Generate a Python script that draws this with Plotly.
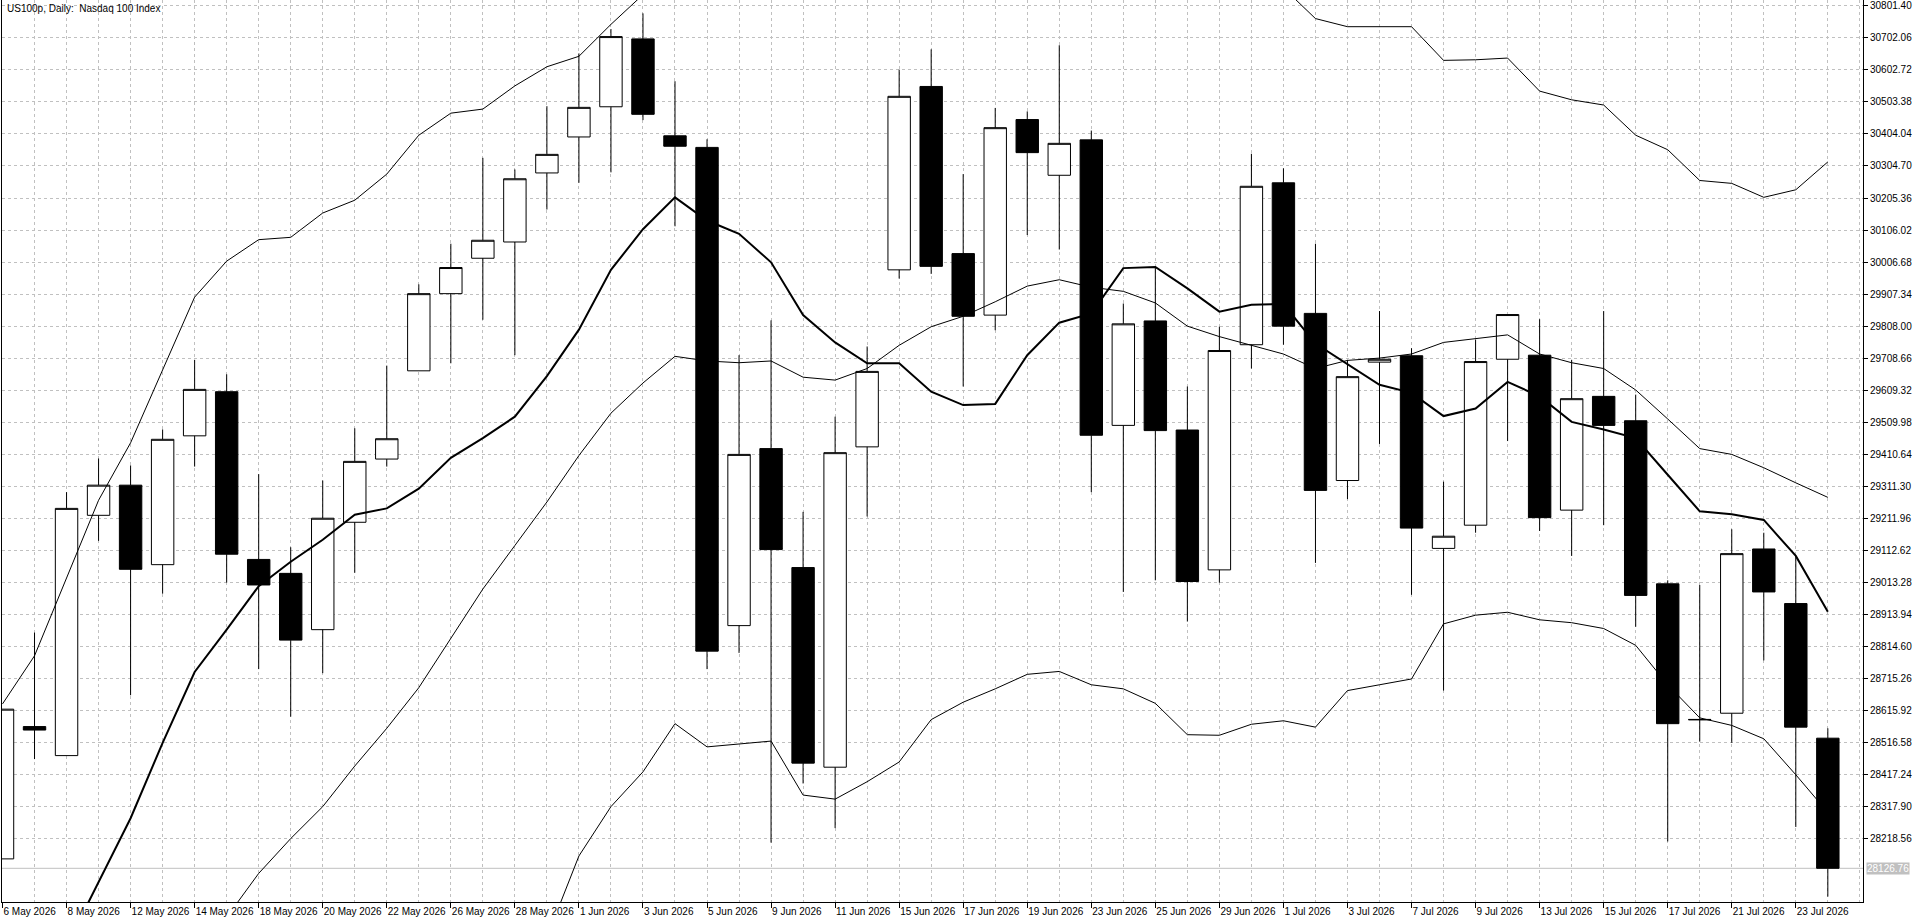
import plotly.graph_objects as go
from datetime import date

# ---------------- data ----------------
dates = [
    "2026-05-06", "2026-05-07", "2026-05-08", "2026-05-11", "2026-05-12", "2026-05-13",
    "2026-05-14", "2026-05-15", "2026-05-18", "2026-05-19", "2026-05-20", "2026-05-21",
    "2026-05-22", "2026-05-25", "2026-05-26", "2026-05-27", "2026-05-28", "2026-05-29",
    "2026-06-01", "2026-06-02", "2026-06-03", "2026-06-04", "2026-06-05", "2026-06-08",
    "2026-06-09", "2026-06-10", "2026-06-11", "2026-06-12", "2026-06-15", "2026-06-16",
    "2026-06-17", "2026-06-18", "2026-06-19", "2026-06-22", "2026-06-23", "2026-06-24",
    "2026-06-25", "2026-06-26", "2026-06-29", "2026-06-30", "2026-07-01", "2026-07-02",
    "2026-07-03", "2026-07-06", "2026-07-07", "2026-07-08", "2026-07-09", "2026-07-10",
    "2026-07-13", "2026-07-14", "2026-07-15", "2026-07-16", "2026-07-17", "2026-07-20",
    "2026-07-21", "2026-07-22", "2026-07-23", "2026-07-24",
]

open_ = [
    28156.0, 28566.3, 28476.3, 29221.4, 29314.9, 29068.4, 29467.9, 29604.7, 29084.6, 29041.4,
    28866.8, 29199.8, 29395.9, 29669.5, 29908.8, 30018.6, 30069.0, 30283.1, 30394.7, 30488.3,
    30698.8, 30398.3, 30362.3, 28879.4, 29428.3, 29059.4, 28440.3, 29433.7, 29982.6, 30551.3,
    30033.0, 29842.2, 30448.7, 30275.9, 30385.7, 29500.3, 29824.2, 29485.9, 29052.2, 29750.4,
    30252.5, 29847.6, 29329.3, 29696.4, 29716.2, 29118.8, 29190.8, 29705.4, 29718.0, 29237.5,
    29590.3, 29514.7, 29009.0, 28588.5, 28607.7, 29117.0, 28947.8, 28530.3,
]
high = [
    28620.3, 28857.8, 29293.3, 29397.7, 29376.1, 29487.7, 29703.6, 29658.7, 29349.1, 29122.4,
    29329.3, 29491.3, 29685.6, 29937.6, 30063.6, 30329.9, 30293.9, 30490.1, 30653.8, 30729.4,
    30778.0, 30567.5, 30387.5, 29718.0, 29826.0, 29232.1, 29527.3, 29745.0, 30603.4, 30666.4,
    30279.5, 30484.7, 30473.9, 30679.0, 30414.5, 29878.2, 29991.6, 29620.9, 29806.2, 30342.5,
    30297.5, 30063.6, 29703.6, 29854.8, 29739.6, 29325.7, 29766.6, 29844.0, 29829.6, 29703.6,
    29854.8, 29595.7, 29019.8, 29005.4, 29178.2, 29167.4, 29095.4, 28560.9,
]
low = [
    28156.0, 28465.5, 28476.3, 29142.2, 28663.5, 28978.4, 29372.5, 29012.6, 28744.5, 28596.9,
    28731.9, 29043.2, 29372.5, 29669.5, 29692.8, 29827.8, 29718.0, 30169.7, 30252.5, 30284.9,
    30446.9, 30117.6, 28744.5, 28794.8, 28206.4, 28389.9, 28251.4, 29217.8, 29955.6, 29970.0,
    29620.9, 29795.4, 30090.6, 30045.6, 29293.3, 28983.8, 29019.8, 28892.0, 29012.6, 29676.6,
    29750.4, 29073.8, 29271.7, 29442.7, 28974.8, 28677.9, 29167.4, 29451.7, 29172.8, 29095.4,
    29190.8, 28875.8, 28210.0, 28519.5, 28515.9, 28771.4, 28255.0, 28039.0,
]
close = [
    28620.3, 28555.5, 29242.9, 29314.9, 29054.0, 29457.1, 29611.9, 29100.8, 29005.4, 28834.4,
    29212.4, 29388.7, 29458.9, 29908.8, 29989.8, 30074.4, 30265.1, 30340.7, 30486.5, 30706.0,
    30464.9, 30365.9, 28800.2, 29410.3, 29115.2, 28452.9, 29415.7, 29667.7, 30520.7, 29993.4,
    29838.6, 30423.5, 30346.1, 30374.9, 29469.7, 29815.2, 29484.1, 29016.2, 29732.4, 30241.7,
    29808.0, 29298.7, 29651.4, 29705.4, 29181.8, 29156.6, 29698.2, 29844.0, 29214.2, 29583.1,
    29500.3, 28973.0, 28575.3, 28587.5, 29102.6, 28983.8, 28564.5, 28126.76,
]

# thick moving average (None = outside the visible window)
ma_line = [
    None, None, 27886.0, 28084.0, 28282.0, 28515.9, 28735.5, 28866.8, 29001.8, 29077.4,
    29145.8, 29223.1, 29242.9, 29304.1, 29399.5, 29460.7, 29527.3, 29653.3, 29797.2, 29982.6,
    30108.6, 30207.5, 30135.5, 30094.2, 30006.0, 29842.2, 29757.6, 29692.8, 29692.8, 29604.7,
    29563.3, 29566.9, 29718.0, 29818.8, 29847.6, 29988.0, 29991.6, 29925.0, 29853.0, 29874.6,
    29876.4, 29754.0, 29689.2, 29626.3, 29601.1, 29529.1, 29552.5, 29635.2, 29590.3, 29511.1,
    29487.7, 29460.7, 29347.3, 29233.9, 29224.9, 29207.0, 29095.4, 28922.6,
]
bb_upper = [
    28636.5, 28785.8, 29027.0, 29268.1, 29446.3, 29672.2, 29898.0, 30009.6, 30076.2, 30083.4,
    30158.9, 30198.5, 30279.5, 30400.1, 30468.5, 30481.1, 30553.1, 30612.4, 30644.8, 30743.8,
    30836.0, None, None, None, None, None, None, None, None, None,
    None, None, None, None, None, None, None, None, None, None,
    30857.0, 30761.8, 30736.6, 30736.6, 30736.6, 30632.2, 30634.0, 30639.4, 30536.9, 30509.9,
    30493.7, 30400.1, 30355.1, 30259.7, 30250.7, 30207.5, 30230.9, 30317.3,
]
bb_mid = [
    None, None, None, None, None, None, None, 27975.0, 28111.0, 28219.0,
    28318.0, 28443.9, 28560.9, 28686.9, 28839.8, 28992.8, 29127.8, 29262.7, 29406.7, 29538.1,
    29631.7, 29714.4, 29700.0, 29694.6, 29700.0, 29649.7, 29640.7, 29676.6, 29748.6, 29806.2,
    29838.6, 29883.6, 29932.2, 29952.0, 29928.6, 29916.0, 29880.0, 29808.0, 29775.6, 29748.6,
    29721.6, 29676.6, 29701.8, 29709.0, 29721.6, 29757.6, 29768.4, 29781.0, 29721.6, 29694.6,
    29676.6, 29610.1, 29520.1, 29428.3, 29410.3, 29368.9, 29322.1, 29277.1,
]
bb_lower = [
    None, None, None, None, None, None, None, None, None, None,
    None, None, None, None, None, None, None, 27913.0, 28165.0, 28318.0,
    28425.9, 28575.3, 28503.3, 28512.3, 28521.3, 28353.9, 28341.3, 28395.3, 28456.5, 28587.9,
    28641.9, 28683.3, 28728.3, 28737.3, 28695.9, 28683.3, 28638.3, 28541.1, 28539.3, 28573.5,
    28584.3, 28564.5, 28677.9, 28695.9, 28713.9, 28884.8, 28911.8, 28920.8, 28897.4, 28888.4,
    28870.4, 28818.2, 28695.9, 28593.3, 28569.9, 28528.5, 28416.9, 28300.0,
]

price_ticks = [
    30801.40, 30702.06, 30602.72, 30503.38, 30404.04, 30304.70, 30205.36, 30106.02, 30006.68,
    29907.34, 29808.00, 29708.66, 29609.32, 29509.98, 29410.64, 29311.30, 29211.96, 29112.62,
    29013.28, 28913.94, 28814.60, 28715.26, 28615.92, 28516.58, 28417.24, 28317.90, 28218.56,
]
last_price = 28126.76
title_text = "US100p, Daily:\u00a0\u00a0Nasdaq 100 Index"

# ---------------- figure ----------------
xs = list(range(len(dates)))


def fmt(d):
    dd = date.fromisoformat(d)
    return f"{dd.day} {dd.strftime('%b')} {dd.year}"


tick_idx = xs[::2]
tick_txt = [fmt(dates[i]) for i in tick_idx]

FONT = "Liberation Sans"
GRID = "#c0c0c0"

fig = go.Figure()
fig.add_trace(go.Candlestick(
    x=xs, open=open_, high=high, low=low, close=close,
    increasing=dict(line=dict(color="black", width=1), fillcolor="white"),
    decreasing=dict(line=dict(color="black", width=1), fillcolor="black"),
    whiskerwidth=0, showlegend=False, hoverinfo="skip",
))
for series, w in ((bb_upper, 1), (bb_mid, 1), (bb_lower, 1), (ma_line, 2)):
    fig.add_trace(go.Scatter(
        x=xs, y=series, mode="lines", line=dict(color="black", width=w),
        connectgaps=False, showlegend=False, hoverinfo="skip",
    ))

fig.add_shape(type="line", xref="paper", x0=0, x1=1, yref="y",
              y0=last_price, y1=last_price, line=dict(color=GRID, width=1), layer="below")

fig.add_annotation(xref="paper", yref="paper", x=0, y=1, xanchor="left", yanchor="top",
                   xshift=3, yshift=-1, text=title_text, showarrow=False,
                   font=dict(family=FONT, size=10, color="black"))
fig.add_annotation(xref="paper", yref="y", x=1, y=last_price, xanchor="left", yanchor="middle",
                   xshift=3, text=f"{last_price:.2f}", showarrow=False, bgcolor=GRID,
                   borderpad=0, font=dict(family=FONT, size=10, color="white"))

fig.update_layout(
    width=1920, height=923,
    margin=dict(l=2, r=57, t=0, b=21),
    paper_bgcolor="white", plot_bgcolor="white",
    showlegend=False, boxgap=0.3, boxgroupgap=0,
    xaxis=dict(
        range=[-0.5 / 32, (1861 - 2.5) / 32 + 0.02],
        tickmode="array", tickvals=tick_idx, ticktext=tick_txt, tickangle=0,
        ticks="outside", ticklen=5, tickcolor="black", tickwidth=1,
        ticklabelposition="outside right",
        tickfont=dict(family=FONT, size=10, color="black"),
        showline=True, linecolor="black", linewidth=1, mirror=True,
        showgrid=True, gridcolor=GRID, griddash="3px,3px", gridwidth=1,
        minor=dict(tickvals=list(range(len(dates) + 1)), showgrid=True,
                   gridcolor=GRID, griddash="3px,3px", gridwidth=1, ticks=""),
        zeroline=False, rangeslider=dict(visible=False), fixedrange=True,
    ),
    yaxis=dict(
        side="right", range=[28022.3, 30819.4],
        tickmode="array", tickvals=price_ticks, ticktext=[f"{v:.2f}" for v in price_ticks],
        ticks="outside", ticklen=4, tickcolor="black", tickwidth=1,
        tickfont=dict(family=FONT, size=10, color="black"),
        showline=True, linecolor="black", linewidth=1, mirror=True,
        showgrid=True, gridcolor=GRID, griddash="3px,3px", gridwidth=1,
        zeroline=False, fixedrange=True,
    ),
)

fig.write_html("out.html", config={"displayModeBar": False})
